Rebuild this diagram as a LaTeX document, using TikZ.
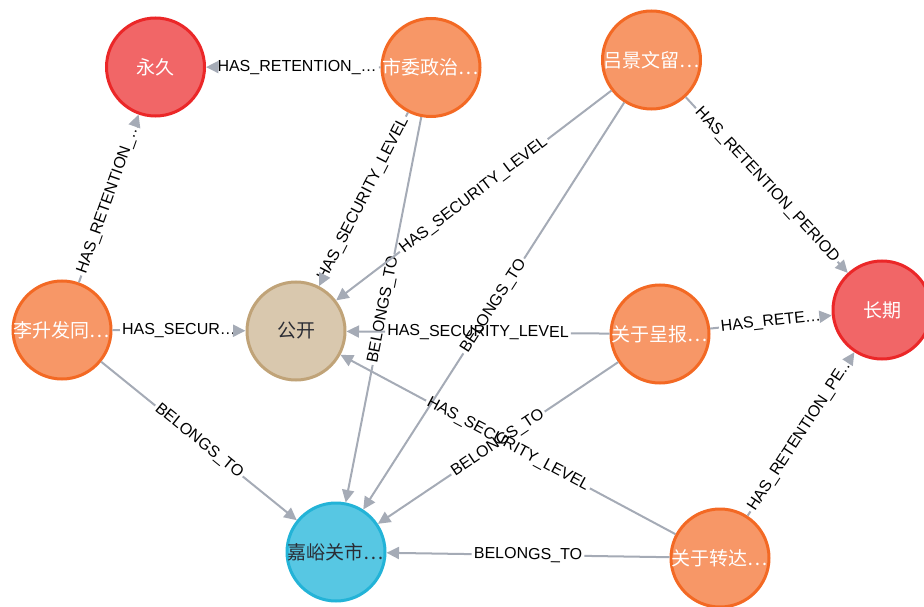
\documentclass[tikz,border=0pt]{standalone}
\usepackage{fontspec}
\setmainfont{Liberation Sans}
\newfontfamily\cjk{Noto Sans CJK SC}
\usetikzlibrary{arrows.meta}
\definecolor{redF}{HTML}{F16667}
\definecolor{redD}{HTML}{EB2728}
\definecolor{oraF}{HTML}{F79767}
\definecolor{oraD}{HTML}{F36924}
\definecolor{tanF}{HTML}{D9C8AE}
\definecolor{tanD}{HTML}{C0A378}
\definecolor{bluF}{HTML}{57C7E3}
\definecolor{bluD}{HTML}{23B3D7}
\definecolor{edgeC}{HTML}{A5ABB6}
\definecolor{darkT}{HTML}{2A2C34}
\newcommand\nodetxt[1]{\makebox[0pt][c]{#1}}
\newcommand\relE[5][0.5]{%
  \path (#3) -- (#4) node[lbl, pos=#1, sloped] (#2) {#5};
  \draw[edgeline] (#3) -- (#2);
  \draw[edgearrow] (#2) -- (#4);
}
\begin{document}
\begin{tikzpicture}[x=1pt,y=-1pt,
  basenode/.style={circle, minimum size=98pt, line width=3pt, inner sep=0pt,
    font=\cjk\fontsize{19}{19}\selectfont},
  rednode/.style={basenode, fill=redF, draw=redD, text=white},
  oranode/.style={basenode, fill=oraF, draw=oraD, text=white},
  tannode/.style={basenode, fill=tanF, draw=tanD, text=darkT},
  blunode/.style={basenode, fill=bluF, draw=bluD, text=darkT},
  lbl/.style={font=\fontsize{16}{16}\selectfont, inner sep=2pt, text=black},
  edgeline/.style={draw=edgeC, line width=2pt},
  edgearrow/.style={edgeline, -{Triangle[length=12.5pt,width=12pt]}}
]
\useasboundingbox (0,0) rectangle (924,607);

\node[rednode] (n1) at (155.5,67) {\nodetxt{永久}};
\node[oranode] (n2) at (431,67.5) {\nodetxt{市委政治…}};
\node[oranode] (n3) at (651.5,60) {\nodetxt{吕景文留…}};
\node[rednode] (n4) at (882,310) {\nodetxt{长期}};
\node[tannode] (n5) at (296,331) {\nodetxt{公开}};
\node[oranode] (n6) at (62,330) {\nodetxt{李升发同…}};
\node[oranode] (n7) at (660,334) {\nodetxt{关于呈报…}};
\node[blunode] (n8) at (336,552) {\nodetxt{嘉峪关市…}};
\node[oranode] (n9) at (720,558) {\nodetxt{关于转达…}};

\relE[0.478]{e1}{n2}{n1}{HAS\_RETENTION\_…}
\relE{e2}{n6}{n1}{HAS\_RETENTION\_…}
\relE{e3}{n6}{n5}{HAS\_SECUR…}
\relE{e4}{n6}{n8}{BELONGS\_TO}
\relE{e5}{n2}{n5}{HAS\_SECURITY\_LEVEL}
\relE{e6}{n2}{n8}{BELONGS\_TO}
\relE{e7}{n3}{n5}{HAS\_SECURITY\_LEVEL}
\relE{e8}{n3}{n8}{BELONGS\_TO}
\relE{e9}{n3}{n4}{HAS\_RETENTION\_PERIOD}
\relE{e10}{n7}{n5}{HAS\_SECURITY\_LEVEL}
\relE{e11}{n7}{n4}{HAS\_RETE…}
\relE{e12}{n7}{n8}{BELONGS\_TO}
\relE{e13}{n9}{n5}{HAS\_SECURITY\_LEVEL}
\relE{e14}{n9}{n8}{BELONGS\_TO}
\relE{e15}{n9}{n4}{HAS\_RETENTION\_PE…}
\end{tikzpicture}
\end{document}
